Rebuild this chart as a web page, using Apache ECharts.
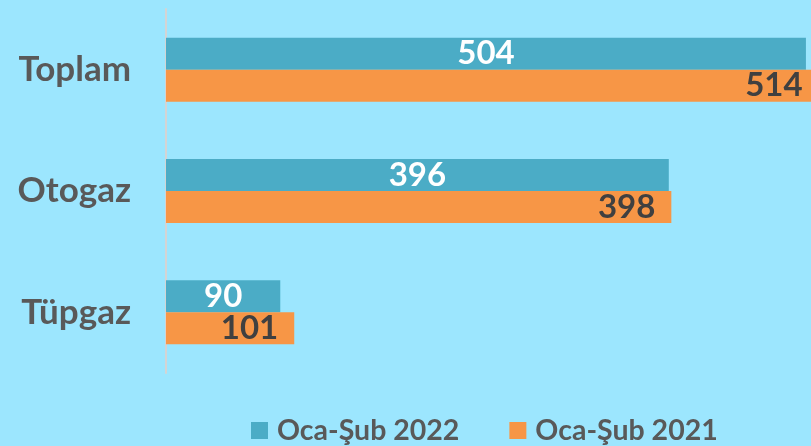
<!DOCTYPE html>
<html>
<head>
<meta charset="utf-8">
<script src="https://cdn.jsdelivr.net/npm/echarts@6/dist/echarts.min.js"></script>
<style>
  html, body { margin: 0; padding: 0; background: #9CE6FE; }
  #chart { width: 811px; height: 446px; }
</style>
</head>
<body>
<div id="chart"></div>
<script>
// Categories listed top to bottom
const categories = ['Toplam', 'Otogaz', 'Tüpgaz'];
const seriesNames = ['Oca-Şub 2022', 'Oca-Şub 2021'];
const values2022 = [504, 396, 90];
const values2021 = [514, 398, 101];

const FONT = 'Lato, "Open Sans", sans-serif';

const chart = echarts.init(document.getElementById('chart'), null, { renderer: 'canvas' });

chart.setOption({
  backgroundColor: '#9CE6FE',
  animation: false,
  grid: { left: 166, right: 0, top: 9, bottom: 73, containLabel: false },
  legend: {
    data: seriesNames,
    left: 246,
    top: 411,
    itemWidth: 17,
    itemHeight: 17,
    itemGap: 50,
    icon: 'rect',
    textStyle: { color: '#595959', fontFamily: FONT, fontWeight: 'bold', fontSize: 28.5, padding: [0, 0, 0, 4] }
  },
  xAxis: {
    type: 'value',
    min: 0,
    max: 508,
    show: false,
    splitLine: { show: false }
  },
  yAxis: {
    type: 'category',
    data: categories,
    inverse: true,
    axisLine: { show: true, lineStyle: { color: '#D4D4D4', width: 2 } },
    axisTick: { show: false },
    axisLabel: {
      margin: 35,
      color: '#595959',
      fontFamily: FONT,
      fontWeight: 'bold',
      fontSize: 35
    }
  },
  series: [
    {
      name: seriesNames[0],
      type: 'bar',
      data: values2022,
      barWidth: 32,
      barGap: '0%',
      clip: false,
      itemStyle: { color: '#4BACC6' },
      label: {
        show: true,
        position: 'inside',
        color: '#FFFFFF',
        fontFamily: FONT,
        fontWeight: 'bold',
        fontSize: 33
      }
    },
    {
      name: seriesNames[1],
      type: 'bar',
      data: values2021,
      barWidth: 32,
      clip: false,
      itemStyle: { color: '#F79646' },
      label: {
        show: true,
        position: 'insideRight',
        distance: 16,
        color: '#404040',
        fontFamily: FONT,
        fontWeight: 'bold',
        fontSize: 33
      }
    }
  ]
});
</script>
</body>
</html>
